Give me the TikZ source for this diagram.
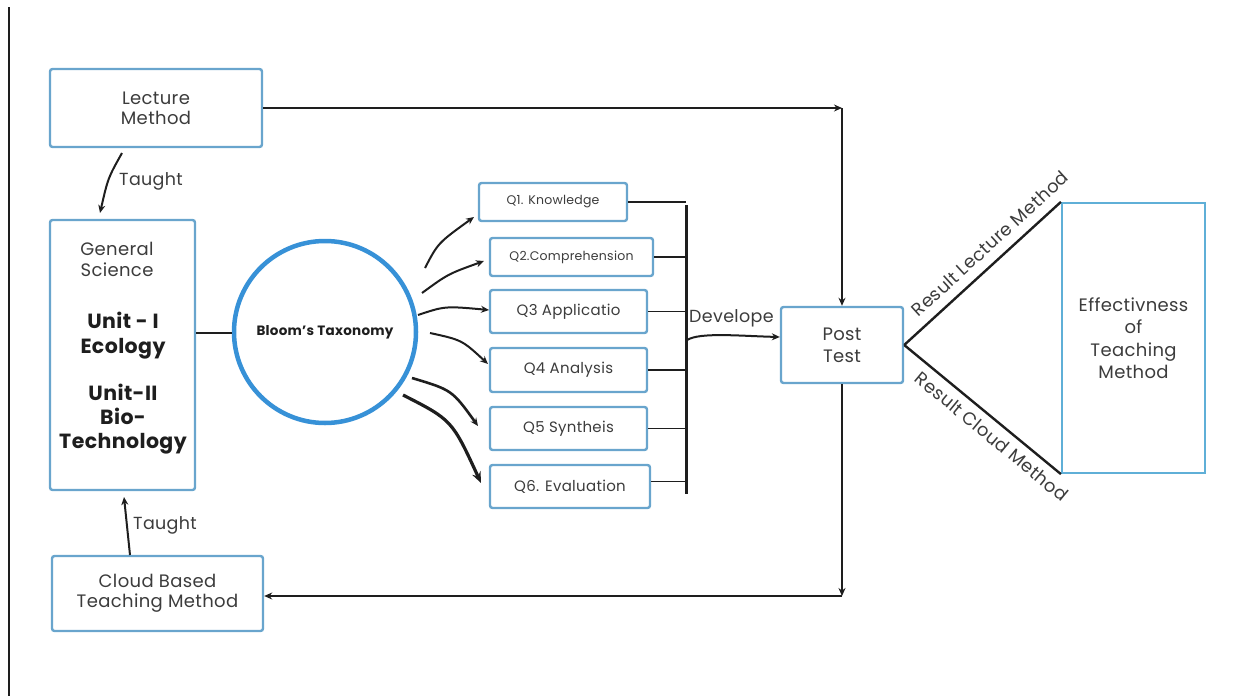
\documentclass[tikz,border=0pt]{standalone}
\usepackage{fontspec}
\setmainfont{Poppins}[LetterSpace=2]
\usetikzlibrary{arrows.meta}
\definecolor{boxblue}{RGB}{105,165,205}
\definecolor{effblue}{RGB}{95,175,215}
\definecolor{circblue}{RGB}{55,145,215}
\definecolor{txt}{RGB}{60,60,60}
\definecolor{ink}{RGB}{30,30,30}
\begin{document}
\begin{tikzpicture}[x=1pt,y=-1pt,
  box/.style={draw=boxblue, line width=2.4pt, rounded corners=2.5pt, fill=white, inner sep=0pt, text=txt, align=center},
  lbl/.style={text=txt, inner sep=0pt, align=center},
  arr/.style={-{Stealth[length=8pt,width=7pt]}, line width=2pt, draw=ink},
  ln/.style={line width=2pt, draw=ink},
  fs/.style 2 args={font=\fontsize{#1}{#2}\selectfont}
]
\useasboundingbox (0,0) rectangle (1255,696);
\draw[line width=2pt, ink] (9,7) -- (9,696);

% boxes
\node[box, minimum width=212pt, minimum height=78pt, fs={18}{20}] (lecture) at (156,108) {Lecture\\Method};
\node[box, minimum width=145pt, minimum height=270pt] (gensci) at (122.5,355) {};
\node[box, minimum width=211pt, minimum height=75pt, fs={18}{20}] (cloud) at (157.5,593.5) {Cloud Based\\Teaching Method};
\node[draw=circblue, line width=4.5pt, circle, minimum size=182pt, inner sep=0pt, fill=white,
      font=\bfseries\fontsize{13.5}{15}\selectfont, text=ink] (bloom) at (325,332) {Bloom's Taxonomy};

\node[box, minimum width=148pt, minimum height=38pt, fs={12.5}{14}] (q1) at (553,202) {Q1. Knowledge};
\node[box, minimum width=163pt, minimum height=38pt, fs={12.5}{14}] (q2) at (571.5,257) {Q2.Comprehension};
\node[box, minimum width=157pt, minimum height=43pt, fs={15}{17}] (q3) at (568.5,311.5) {Q3 Applicatio};
\node[box, minimum width=157pt, minimum height=44pt, fs={15}{17}] (q4) at (568.5,370) {Q4 Analysis};
\node[box, minimum width=157pt, minimum height=43pt, fs={15}{17}] (q5) at (568.5,428.5) {Q5 Syntheis};
\node[box, minimum width=160pt, minimum height=43pt, fs={15}{17}] (q6) at (570,486.5) {Q6. Evaluation};

\node[box, minimum width=122pt, minimum height=76pt, fs={18}{22}] (post) at (842,345) {Post\\Test};
\node[box, draw=effblue, line width=2.2pt, rounded corners=0pt, minimum width=143pt, minimum height=270pt, fs={18}{22.5}] (effect) at (1133.5,338) {Effectivness\\of\\Teaching\\Method};

% text in general science box
\node[lbl, fs={18}{21}] (gs) at (117,259.5) {General\\Science};
\node[lbl, font=\bfseries\fontsize{20.5}{25}\selectfont, text=ink] (u1) at (123,335.5) {Unit - I\\Ecology};
\node[lbl, font=\bfseries\fontsize{20.5}{24}\selectfont, text=ink] (u2) at (123,419) {Unit-II\\Bio-\\Technology};

% taught arrows
\coordinate (t1s) at (122,153);
\coordinate (t1e) at (100,213);
\draw[arr] (t1s) .. controls (108,178) .. (t1e);
\node[lbl, fs={17.5}{20}, anchor=west] (taught1) at (119,181) {Taught};
\coordinate (t2s) at (130,555);
\coordinate (t2e) at (124,497);
\draw[arr] (t2s) -- (t2e);
\node[lbl, fs={17.5}{20}, anchor=west] (taught2) at (133,525) {Taught};

% gen sci to bloom
\draw[ln] (gensci.east |- 0,333) -- (bloom.west |- 0,333);

% bloom arrows
\coordinate (s1) at (425,268);
\coordinate (s2) at (422,293);
\coordinate (s3) at (418,315);
\coordinate (s4) at (430,333);
\coordinate (s5) at (412,378);
\coordinate (s6) at (403,395);
\coordinate (e1) at (474,217);
\coordinate (e2) at (484,261);
\coordinate (e3) at (489,310);
\coordinate (e4) at (488,364);
\coordinate (e5) at (478,426);
\coordinate (e6) at (481,483);
\draw[arr] (s1) .. controls (438,243) .. (e1);
\draw[arr] (s2) .. controls (448,274) .. (e2);
\draw[arr] (s3) .. controls (445,306) .. (e3);
\draw[arr] (s4) .. controls (462,340) .. (e4);
\draw[arr, line width=2.6pt] (s5) .. controls (452,390) .. (e5);
\draw[arr, line width=3.2pt, -{Stealth[length=11pt,width=9pt]}] (s6) .. controls (452,420) .. (e6);

% bar
\coordinate (bt) at (686,205);
\coordinate (bb) at (686,494);
\draw[line width=3pt, ink] (bt) -- (bb);
\draw[ln, line width=1.6pt] (q1.east) -- (q1.east -| bt);
\draw[ln, line width=1.6pt] (q2.east) -- (q2.east -| bt);
\draw[ln, line width=1.6pt] (q3.east) -- (q3.east -| bt);
\draw[ln, line width=1.6pt] (q4.east) -- (q4.east -| bt);
\draw[ln, line width=1.6pt] (q5.east) -- (q5.east -| bt);
\draw[ln, line width=1.6pt] ([yshift=5pt]q6.east) -- ([yshift=5pt]q6.east -| bt);

% develope
\coordinate (dv) at (687,340);
\draw[arr] (dv) .. controls (700,332) and (740,336) .. (post.west |- 0,337);
\node[lbl, fs={17.5}{20}, anchor=west] (devlbl) at (689,318) {Develope};

% lecture to post
\coordinate (c1) at (842,108);
\draw[arr] (lecture.east) -- (c1);
\draw[arr] (c1) -- (post.north);

% post to cloud
\coordinate (c2) at (842,596);
\draw[arr] (post.south) -- (c2);
\draw[arr] (c2) -- (cloud.east |- c2);

% results
\draw[ln, line width=2.4pt] (post.east) -- node[sloped, above=9pt, pos=0.62, lbl, fs={18}{20}] {Result Lecture Method} (effect.north west);
\draw[ln, line width=2.4pt] (post.east) -- node[sloped, below=7pt, pos=0.62, lbl, fs={18}{20}] {Result Cloud Method} (effect.south west);
\end{tikzpicture}
\end{document}
